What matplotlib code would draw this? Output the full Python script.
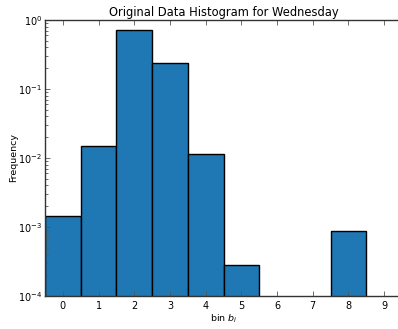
import matplotlib.pyplot as plt

bins = [0, 1, 2, 3, 4, 5, 6, 7, 8, 9]
freq = [1.43e-3, 1.49e-2, 0.716, 0.235, 1.13e-2, 2.84e-4, 0, 0, 8.7e-4, 0]

fig = plt.figure(figsize=(3.98, 3.29), dpi=100)
ax = fig.add_axes([45 / 398, 33 / 329, 357 / 398, 276 / 329])

ax.bar(bins, freq, width=1.0, color="#1f77b4", edgecolor="black", linewidth=1.0)
ax.set_yscale("log")
ax.set_ylim(1e-4, 1)
ax.set_xlim(-0.5, 9.5)
ax.set_xticks(bins)

for spine in ax.spines.values():
    spine.set_color("#333333")
    spine.set_linewidth(1.0)

ax.tick_params(which="both", direction="in", top=True, right=False,
               labelsize=7, color="#555555", width=0.6)
ax.tick_params(which="major", length=3.5)
ax.tick_params(which="minor", length=2)
ax.tick_params(axis="y", pad=2)

ax.set_title("Original Data Histogram for Wednesday", fontsize=8.3, pad=3)
ax.set_xlabel("bin $b_i$", fontsize=6.8, labelpad=1.5)
ax.set_ylabel("Frequency", fontsize=6.8)
ax.yaxis.set_label_coords(-0.076, 0.5)

fig.savefig("out.png", dpi=100)
